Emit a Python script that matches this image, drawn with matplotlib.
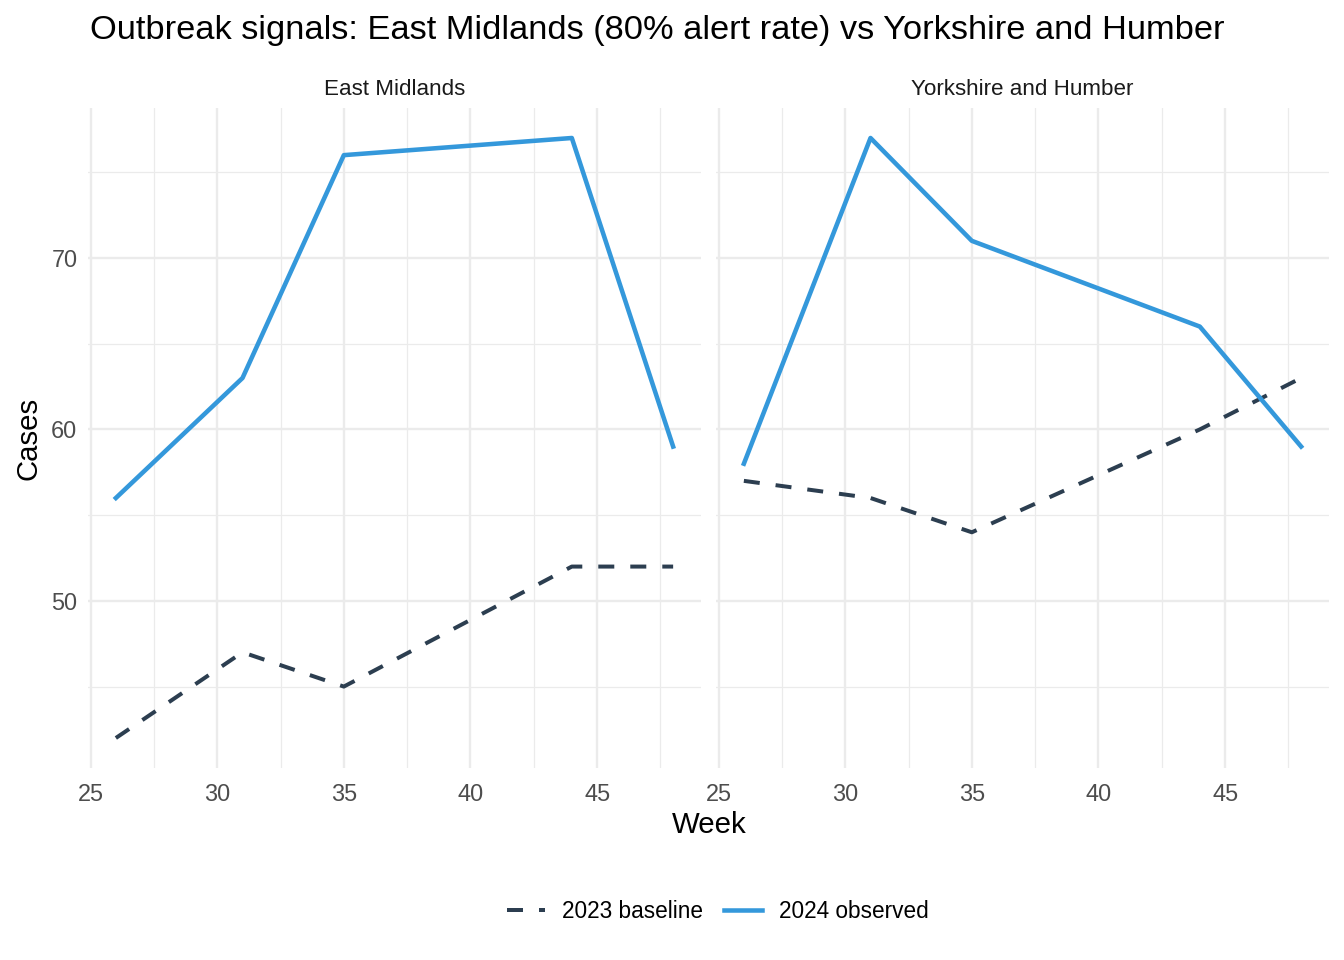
import numpy as np
import matplotlib.pyplot as plt
from matplotlib.lines import Line2D

plt.rcParams['font.family'] = ['Liberation Sans', 'DejaVu Sans']

weeks = [26, 31, 35, 44, 48]
regions = ['East Midlands', 'Yorkshire and Humber']
baseline_2023 = {
    'East Midlands': [42, 47, 45, 52, 52],
    'Yorkshire and Humber': [57, 56, 54, 60, 63],
}
observed_2024 = {
    'East Midlands': [56, 63, 76, 77, 59],
    'Yorkshire and Humber': [58, 77, 71, 66, 59],
}

BLUE = '#3498db'
DARK = '#2c3e50'
GRID = '#ebebeb'

W, H = 1344, 960
fig = plt.figure(figsize=(7, 5), dpi=192)

def px_axes(x0, y0, x1, y1):
    return fig.add_axes([x0 / W, 1 - y1 / H, (x1 - x0) / W, (y1 - y0) / H])

panels = [(88, 108, 701, 768), (716, 108, 1329, 768)]
xmin, xmax = min(weeks), max(weeks)
ymin = min(min(v) for v in list(baseline_2023.values()) + list(observed_2024.values()))
ymax = max(max(v) for v in list(baseline_2023.values()) + list(observed_2024.values()))
xpad = (xmax - xmin) * 0.05
ypad = (ymax - ymin) * 0.05

for i, (reg, box) in enumerate(zip(regions, panels)):
    ax = px_axes(*box)
    ax.set_xlim(xmin - xpad, xmax + xpad)
    ax.set_ylim(ymin - ypad, ymax + ypad)
    ax.set_xticks([25, 30, 35, 40, 45])
    ax.set_xticks([27.5, 32.5, 37.5, 42.5, 47.5], minor=True)
    ax.set_yticks([50, 60, 70])
    ax.set_yticks([45, 55, 65, 75], minor=True)
    ax.grid(which='major', color=GRID, lw=0.9)
    ax.grid(which='minor', color=GRID, lw=0.45)
    ax.set_axisbelow(True)
    for s in ax.spines.values():
        s.set_visible(False)
    ax.tick_params(which='both', length=0, labelsize=8.8, labelcolor='#4d4d4d')
    ax.tick_params(axis='x', pad=5.6)
    ax.tick_params(axis='y', pad=4)
    if i > 0:
        ax.tick_params(labelleft=False)
    ax.plot(weeks, baseline_2023[reg], color=DARK, lw=1.5, ls=(0, (4, 4)))
    ax.plot(weeks, observed_2024[reg], color=BLUE, lw=1.7)
    ax.set_title(reg, fontsize=8.4, color='#1a1a1a', pad=5)

fig.text(90 / W, 1 - 31 / H, 'Outbreak signals: East Midlands (80% alert rate) vs Yorkshire and Humber',
         fontsize=12.9, ha='left', va='center')
fig.text(709 / W, 1 - 825 / H, 'Week', fontsize=11, ha='center', va='center')
fig.text(28 / W, 1 - 438 / H, 'Cases', fontsize=11, ha='center', va='center', rotation=90)

handles = [Line2D([], [], color=DARK, lw=1.5, ls=(0, (4, 4))),
           Line2D([], [], color=BLUE, lw=1.7)]
fig.legend(handles, ['2023 baseline', '2024 observed'], loc='center', ncol=2,
           bbox_to_anchor=(718 / W, 1 - 911 / H), frameon=False, fontsize=8.5,
           handlelength=1.7, columnspacing=0.9, handletextpad=0.75)

fig.savefig('out.png', dpi=192, facecolor='white')
